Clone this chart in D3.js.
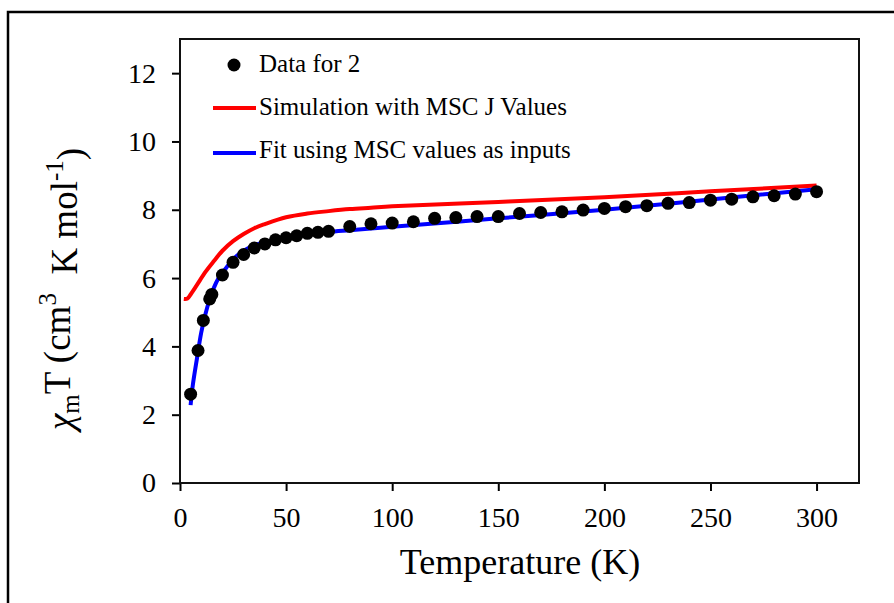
<!DOCTYPE html>
<html>
<head>
<meta charset="utf-8">
<script src="https://cdn.jsdelivr.net/npm/d3@7"></script>
<style>
  body { margin: 0; background: #fff; }
  text { font-family: "Liberation Serif", "Times New Roman", serif; fill: #000; }
</style>
</head>
<body>
<script>
// measured data (chi_m T vs temperature)
var dataTemp = [5, 8.5, 11, 14, 15, 20, 25, 30, 35, 40, 45, 50, 55, 60, 65, 70, 80, 90, 100, 110, 120, 130, 140, 150, 160, 170, 180, 190, 200, 210, 220, 230, 240, 250, 260, 270, 280, 290, 300];
var dataChiT = [2.60, 3.88, 4.76, 5.39, 5.52, 6.09, 6.46, 6.69, 6.88, 7.00, 7.12, 7.18, 7.24, 7.31, 7.34, 7.37, 7.51, 7.59, 7.61, 7.65, 7.75, 7.77, 7.80, 7.80, 7.89, 7.92, 7.94, 7.99, 8.04, 8.09, 8.12, 8.19, 8.21, 8.28, 8.31, 8.38, 8.41, 8.46, 8.53];

// simulation with MSC J values (red)
var simTemp = [1.8, 3.5, 5, 8, 12, 16, 20, 25, 30, 35, 40, 50, 60, 70, 80, 90, 100, 150, 200, 250, 300];
var simChiT = [5.39, 5.40, 5.52, 5.80, 6.18, 6.50, 6.80, 7.08, 7.29, 7.46, 7.58, 7.78, 7.89, 7.96, 8.02, 8.06, 8.10, 8.23, 8.37, 8.54, 8.71];

// fit using MSC values as inputs (blue)
var fitTemp = [5, 6, 8, 10, 12, 14, 16, 18, 20, 25, 30, 35, 40, 50, 60, 70, 80, 90, 100, 150, 200, 250, 300];
var fitChiT = [2.28, 2.85, 3.65, 4.40, 4.95, 5.38, 5.72, 5.98, 6.15, 6.55, 6.80, 6.96, 7.06, 7.19, 7.28, 7.35, 7.40, 7.45, 7.50, 7.75, 8.00, 8.30, 8.60];

var xTicks = [0, 50, 100, 150, 200, 250, 300];
var yTicks = [0, 2, 4, 6, 8, 10, 12];

var legendLabels = ["Data for 2", "Simulation with MSC J Values", "Fit using MSC values as inputs"];

//set margin & size
var margin = {top: 39, left: 180},
    width = 679,
    height = 444;

var svg = d3.select("body")
    .append("svg")
    .attr("width", 894)
    .attr("height", 603);

// outer border (only left and top visible)
svg.append("rect")
    .attr("x", 8).attr("y", 12)
    .attr("width", 1000).attr("height", 1000)
    .attr("fill", "none")
    .attr("stroke", "#000")
    .attr("stroke-width", 2.5);

var g = svg.append("g")
    .attr("transform", "translate(" + margin.left + "," + margin.top + ")");

var x = d3.scaleLinear().domain([0, 320]).range([0, width]);
var y = d3.scaleLinear().domain([0, 13]).range([height, 0]);

// axes
var xAxis = g.append("g")
    .attr("transform", "translate(0," + height + ")")
    .call(d3.axisBottom(x).tickValues(xTicks).tickSize(8).tickPadding(16).tickSizeOuter(0));

var yAxis = g.append("g")
    .call(d3.axisLeft(y).tickValues(yTicks).tickSize(8).tickPadding(16).tickSizeOuter(0));

[xAxis, yAxis].forEach(function(a) {
    a.select(".domain").remove();
    a.selectAll(".tick line").attr("stroke", "#000").attr("stroke-width", 2);
    a.selectAll(".tick text")
        .style("font-family", "'Liberation Serif', 'Times New Roman', serif")
        .style("font-size", "28px")
        .attr("fill", "#000");
});

// plot frame
g.append("rect")
    .attr("x", x(0)).attr("y", y(13))
    .attr("width", x(320) - x(0)).attr("height", y(0) - y(13))
    .attr("fill", "none")
    .attr("stroke", "#111")
    .attr("stroke-width", 2);

// lines
var line = d3.line()
    .x(function(d) { return x(d[0]); })
    .y(function(d) { return y(d[1]); })
    .curve(d3.curveCatmullRom.alpha(0.5));

g.append("path")
    .datum(d3.zip(simTemp, simChiT))
    .attr("d", line)
    .attr("fill", "none")
    .attr("stroke", "#ff0000")
    .attr("stroke-width", 4);

g.append("path")
    .datum(d3.zip(fitTemp, fitChiT))
    .attr("d", line)
    .attr("fill", "none")
    .attr("stroke", "#0000ff")
    .attr("stroke-width", 4);

// data points
g.selectAll(".dot")
    .data(d3.zip(dataTemp, dataChiT))
    .enter()
    .append("circle")
    .attr("class", "dot")
    .attr("cx", function(d) { return x(d[0]); })
    .attr("cy", function(d) { return y(d[1]); })
    .attr("r", 6.5)
    .attr("fill", "#000");

// legend
var legend = svg.append("g");

legend.append("circle")
    .attr("cx", 234).attr("cy", 65).attr("r", 6.5)
    .attr("fill", "#000");

legend.append("line")
    .attr("x1", 213).attr("x2", 256).attr("y1", 108).attr("y2", 108)
    .attr("stroke", "#ff0000").attr("stroke-width", 4);

legend.append("line")
    .attr("x1", 213).attr("x2", 256).attr("y1", 153).attr("y2", 153)
    .attr("stroke", "#0000ff").attr("stroke-width", 4);

legend.selectAll(".leg")
    .data(legendLabels)
    .enter()
    .append("text")
    .attr("class", "leg")
    .attr("x", 259)
    .attr("y", function(d, i) { return 72 + i * 43; })
    .style("font-size", "25px")
    .text(function(d) { return d; });

// axis titles
svg.append("text")
    .attr("x", 520)
    .attr("y", 574)
    .attr("text-anchor", "middle")
    .style("font-size", "36px")
    .text("Temperature (K)");

var yTitle = svg.append("text")
    .attr("transform", "translate(73,289) rotate(-90)")
    .attr("text-anchor", "middle")
    .style("font-size", "37px")
    .attr("xml:space", "preserve");

yTitle.append("tspan").style("font-style", "italic").text("\u03c7");
yTitle.append("tspan").attr("dy", "0.25em").style("font-size", "25px").text("m");
yTitle.append("tspan").attr("dy", "-0.25em").text("T (cm");
yTitle.append("tspan").attr("dy", "-0.55em").style("font-size", "25px").text("3");
yTitle.append("tspan").attr("dy", "0.55em").text("\u00a0 K mol");
yTitle.append("tspan").attr("dy", "-0.55em").style("font-size", "25px").text("-1");
yTitle.append("tspan").attr("dy", "0.55em").text(")");
</script>
</body>
</html>
